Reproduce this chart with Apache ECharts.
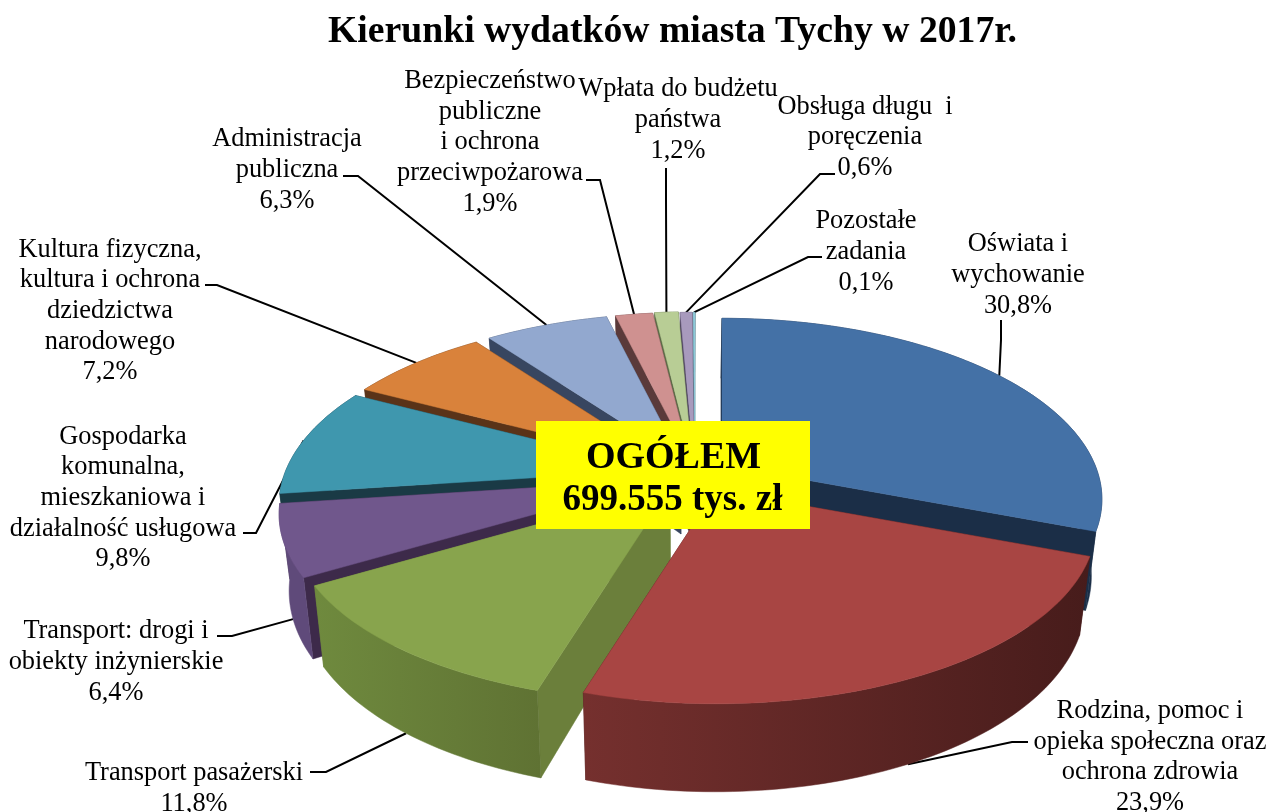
<!DOCTYPE html>
<html><head><meta charset="utf-8">
<style>html,body{margin:0;padding:0;background:#fff}#c{width:1271px;height:812px}</style>
<script src="https://cdn.jsdelivr.net/npm/echarts@6/dist/echarts.min.js"></script>
</head><body><div id="c"></div>
<script>
const chartTitle = 'Kierunki wydatków miasta Tychy w 2017r.';
const totalLines = ['OGÓŁEM', '699.555 tys. zł'];
const categories = [
  'Oświata i\nwychowanie',
  'Rodzina, pomoc i\nopieka społeczna oraz\nochrona zdrowia',
  'Transport pasażerski',
  'Transport: drogi i\nobiekty inżynierskie',
  'Gospodarka\nkomunalna,\nmieszkaniowa i\ndziałalność usługowa',
  'Kultura fizyczna,\nkultura i ochrona\ndziedzictwa\nnarodowego',
  'Administracja\npubliczna',
  'Bezpieczeństwo\npubliczne\ni ochrona\nprzeciwpożarowa',
  'Wpłata do budżetu\npaństwa',
  'Obsługa długu  i\nporęczenia',
  'Pozostałe\nzadania'
];
const shares = [30.8, 23.9, 11.8, 6.4, 9.8, 7.2, 6.3, 1.9, 1.2, 0.6, 0.1];

// ---- appearance and layout (not data) ----
const topColors  = ['#4471a6','#a84543','#88a44d','#70578c','#3f97ae','#d9823b','#92a8cf','#cf9190','#b8cd95','#a89abd','#8fc8d8'];
const wallLeft   = ['#1b2e47','#75302e','#6f8a3e','#5f4a7a','#1a3a45','#5a3318','#384660','#5a3a3a','#5a6a45','#4f4560','#3f6570'];
const wallRight  = ['#1b2e47','#471c1b','#5f7233','#5f4a7a','#1a3a45','#5a3318','#384660','#5a3a3a','#5a6a45','#4f4560','#3f6570'];
const radialWall = ['#1b2e47','#471c1b','#6b7f3b','#3d2a4a','#1a3a45','#5a3318','#384660','#5a3a3a','#5a6a45','#4f4560','#3f6570'];
const apexX = [722,716,670,659,659,668,681,690,692,694,695];
const apexY = [465,490,488,480,470,464,460,459,458.5,459,459];
const drawOrder = [10,9,8,7,6,5,0,4,3,2,1];
const labelX = [1018,1150,194,116,123,110,287,490,678,865,866];
const labelY = [275,757,788.5,662,498,311,170,142.5,120,137.5,252];
const elbows = [
  [[1001,320],[1001,340]], [[1028,742],[1012,742]], [[310,772],[326,772]], [[217,636],[232,636]],
  [[243,533],[256,533]], [[205,285],[217,285]], [[343,176],[358,176]], [[586,180],[600,180]],
  [[666,168],[666,200]], [[835,174],[820,174]], [[822,257],[808,257]]
];
const anchorOnWall = [0,1,1,1,0,0,0,0,0,0,0];
const RX = 373, RY = 174, KX = 0.19, KY = 0.186, VX = 680;

const total = shares.reduce((a,b)=>a+b,0);
const starts = []; { let acc = 0; shares.forEach(s => { starts.push(acc/total*2*Math.PI); acc += s; }); }
const sweep = i => shares[i]/total*2*Math.PI;

function pt(i, th, r, bottom) {
  const u = Math.sin(th)*r, v = -Math.cos(th)*r;
  let x = apexX[i] + RX*u/(1-KX*v), y = apexY[i] + RY*v/(1-KY*v);
  if (bottom) { y += 74 + 14*v; x -= (x-VX)*0.025; }
  return [x,y];
}
function arc(i, bottom, rev) {
  const a = starts[i], b = a + sweep(i), n = Math.max(4, Math.ceil(shares[i]*3)), out = [];
  for (let k=0;k<=n;k++) out.push(pt(i, a+(b-a)*k/n, 1, bottom));
  return rev ? out.reverse() : out;
}
const poly = (points, fill, z2) => ({type:'polygon', z2, shape:{points}, style:{fill, stroke:fill, lineWidth:0.5}});

function renderSlice(params, api) {
  const i = api.value(0), a = starts[i], b = a + sweep(i);
  const base = drawOrder.indexOf(i)*10;
  const apexT = pt(i,a,0,false), apexB = pt(i,a,0,true);
  const wallFill = new echarts.graphic.LinearGradient(0,0,1,0,[{offset:0,color:wallLeft[i]},{offset:1,color:wallRight[i]}]);
  return {type:'group', children:[
    poly([apexT, pt(i,b,1,false), pt(i,b,1,true), apexB], radialWall[i], base),
    poly([apexT, pt(i,a,1,false), pt(i,a,1,true), apexB], radialWall[i], base+1),
    poly(arc(i,false,false).concat(arc(i,true,true)), wallFill, base+2),
    poly([apexT].concat(arc(i,false,false)), topColors[i], base+3)
  ]};
}
function renderNote(params, api) {
  const i = api.value(0);
  const th = starts[i] + sweep(i)/2;
  const end = pt(i, th, 1, !!anchorOnWall[i]);
  return {type:'group', children:[
    {type:'polyline', z2:1, shape:{points: elbows[i].concat([end])}, style:{fill:'none', stroke:'#000', lineWidth:2}},
    {type:'text', z2:2, style:{x:labelX[i], y:labelY[i], text:categories[i]+'\n'+shares[i].toFixed(1).replace('.',',')+'%',
      align:'center', verticalAlign:'middle', fill:'#000', font:'26.4px "Liberation Serif"', lineHeight:30.6}}
  ]};
}
const sliceData = drawOrder.map(i => [i, shares[i]]);
const noteData = shares.map((s,i) => [i, s]);

const chart = echarts.init(document.getElementById('c'), null, {renderer:'canvas'});
chart.setOption({
  animation:false,
  backgroundColor:'#fff',
  title:{text:chartTitle, left:667.5, top:8, textAlign:'center',
    textStyle:{fontFamily:'Liberation Serif', fontWeight:'bold', fontSize:37.7, color:'#000'}},
  xAxis:{show:false}, yAxis:{show:false},
  series:[
    {type:'custom', name:'notes', coordinateSystem:'none', z:1, silent:true, clip:false, renderItem:renderNote, data:noteData},
    {type:'custom', name:'slices', coordinateSystem:'none', z:2, silent:true, clip:false, renderItem:renderSlice, data:sliceData}
  ],
  graphic:[
    {type:'rect', z:50, shape:{x:536,y:421,width:274,height:108}, style:{fill:'#ffff00'}},
    {type:'text', z:51, style:{x:673.5,y:458,text:totalLines[0],align:'center',verticalAlign:'middle',fill:'#000',font:'bold 38px "Liberation Serif"'}},
    {type:'text', z:51, style:{x:672.5,y:500,text:totalLines[1],align:'center',verticalAlign:'middle',fill:'#000',font:'bold 37px "Liberation Serif"'}}
  ]
});
</script></body></html>
